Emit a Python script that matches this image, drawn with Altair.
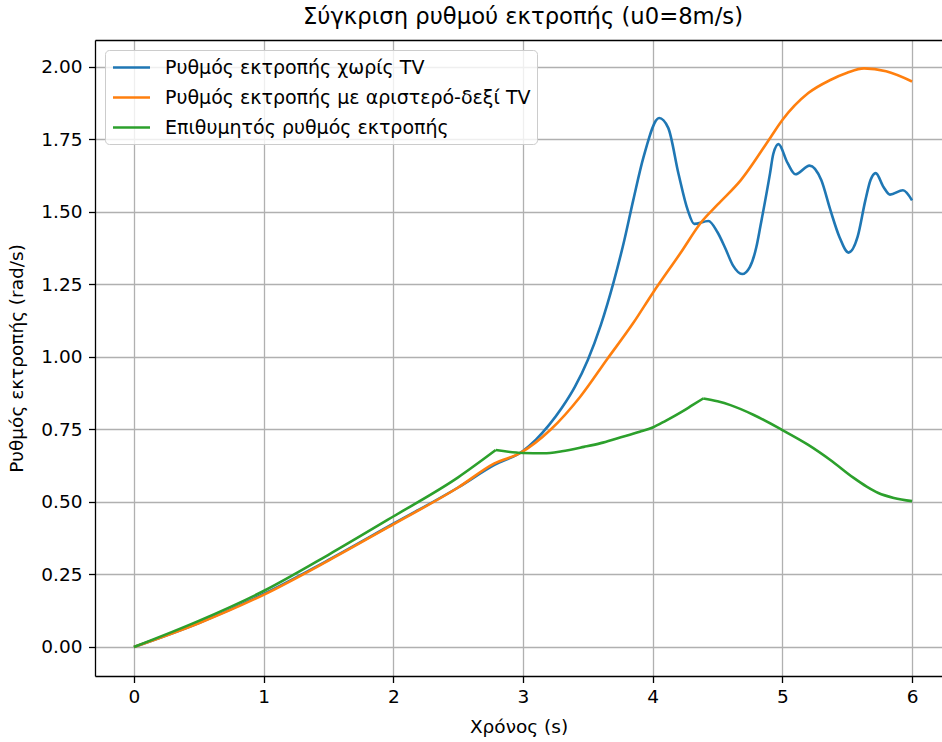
import altair as alt
import pandas as pd

# Yaw-rate comparison, initial speed u0 = 8 m/s
series_names = [
    "Ρυθμός εκτροπής χωρίς TV",
    "Ρυθμός εκτροπής με αριστερό-δεξί TV",
    "Επιθυμητός ρυθμός εκτροπής",
]
series_colors = ["#1f77b4", "#ff7f0e", "#2ca02c"]

# without torque vectoring
t_no_tv = [0.0, 0.5, 1.0, 1.5, 2.0, 2.5, 2.78, 3.0, 3.1, 3.2, 3.3, 3.4, 3.5,
           3.6, 3.7, 3.78, 3.85, 3.93, 4.05, 4.12, 4.20, 4.27, 4.32, 4.43, 4.50,
           4.56, 4.62, 4.69, 4.75, 4.80, 4.83, 4.905, 4.93, 4.97, 5.04, 5.10, 5.21,
           5.30, 5.37, 5.44, 5.51, 5.58, 5.64, 5.68, 5.72, 5.78, 5.83, 5.93, 6.0]
r_no_tv = [0.0, 0.083, 0.183, 0.300, 0.425, 0.550, 0.628, 0.676, 0.715, 0.765, 0.825,
           0.897, 0.990, 1.110, 1.260, 1.400, 1.540, 1.690, 1.824, 1.790, 1.630, 1.507,
           1.459, 1.469, 1.430, 1.375, 1.315, 1.286, 1.311, 1.380, 1.449, 1.633, 1.700,
           1.734, 1.669, 1.630, 1.660, 1.610, 1.507, 1.414, 1.360, 1.414, 1.540, 1.610,
           1.634, 1.586, 1.560, 1.575, 1.540]

# with left-right torque vectoring
t_tv = [0.0, 0.5, 1.0, 1.5, 2.0, 2.5, 2.78, 2.98, 3.21, 3.44, 3.65, 3.85, 4.0, 4.22,
        4.37, 4.5, 4.68, 4.91, 5.0, 5.2, 5.37, 5.5, 5.63, 5.8, 6.0]
r_tv = [0.0, 0.082, 0.180, 0.298, 0.423, 0.550, 0.633, 0.669, 0.748, 0.862, 0.993,
        1.117, 1.220, 1.362, 1.462, 1.525, 1.610, 1.758, 1.817, 1.910, 1.955, 1.980,
        1.995, 1.985, 1.950]

# desired yaw rate, three smooth pieces joined at corners
t_ref = [[0.0, 0.5, 1.0, 1.5, 2.0, 2.5, 2.79],
         [2.79, 3.0, 3.16, 3.3, 3.47, 3.6, 3.73, 3.9, 4.0, 4.1, 4.22, 4.3, 4.39],
         [4.39, 4.5, 4.6, 4.78, 5.0, 5.2, 5.37, 5.55, 5.65, 5.74, 5.86, 6.0]]
r_ref = [[0.0, 0.090, 0.193, 0.318, 0.450, 0.585, 0.679],
         [0.679, 0.669, 0.668, 0.675, 0.690, 0.703, 0.720, 0.742, 0.757, 0.780, 0.810,
          0.832, 0.857],
         [0.857, 0.847, 0.834, 0.800, 0.748, 0.697, 0.645, 0.583, 0.553, 0.531, 0.514,
          0.503]]

x_ticks = [0, 1, 2, 3, 4, 5, 6]
y_ticks = [0.0, 0.25, 0.5, 0.75, 1.0, 1.25, 1.5, 1.75, 2.0]

rows = []
for t, r in zip(t_no_tv, r_no_tv):
    rows.append({"t": t, "r": r, "series": series_names[0], "piece": "a0"})
for t, r in zip(t_tv, r_tv):
    rows.append({"t": t, "r": r, "series": series_names[1], "piece": "b0"})
for k, (ts, rs) in enumerate(zip(t_ref, r_ref)):
    for t, r in zip(ts, rs):
        rows.append({"t": t, "r": r, "series": series_names[2], "piece": f"c{k}"})
df = pd.DataFrame(rows)

FONT = "DejaVu Sans"
FS = 18.5
GRID = "#b0b0b0"
x_scale = alt.Scale(domain=[-0.3, 6.231], zero=False, nice=False)
y_scale = alt.Scale(domain=[-0.1, 2.093], zero=False, nice=False)
color_scale = alt.Scale(domain=series_names, range=series_colors)

x_enc = alt.X(
    "t:Q", scale=x_scale,
    axis=alt.Axis(values=x_ticks, title="Χρόνος (s)", format="d",
                  grid=True, gridColor=GRID, gridWidth=1.3,
                  domainColor="black", domainWidth=1.3,
                  tickColor="black", tickSize=6.5, tickWidth=1.3,
                  labelFontSize=FS, labelColor="black", labelPadding=5,
                  titleFontSize=FS, titleColor="black", titleFontWeight="normal",
                  titlePadding=11, labelFont=FONT, titleFont=FONT),
)
y_enc = alt.Y(
    "r:Q", scale=y_scale,
    axis=alt.Axis(values=y_ticks, title="Ρυθμός εκτροπής (rad/s)", format=".2f",
                  grid=True, gridColor=GRID, gridWidth=1.3,
                  domainColor="black", domainWidth=1.3,
                  tickColor="black", tickSize=6.5, tickWidth=1.3,
                  labelFontSize=FS, labelColor="black", labelPadding=6.5,
                  titleFontSize=FS, titleColor="black", titleFontWeight="normal",
                  titlePadding=14, labelFont=FONT, titleFont=FONT),
)

legend = alt.Legend(
    title=None, orient="none", legendX=10, legendY=10,
    symbolType="M-1.85,0H1.85", symbolSize=400, symbolStrokeWidth=2.6, symbolOffset=9,
    labelOffset=22, labelFontSize=19, labelColor="black", labelFont=FONT,
    rowPadding=8, padding=6, strokeColor="#cccccc", cornerRadius=4,
    fillColor="rgba(255,255,255,0.8)", labelLimit=800,
)

curves = alt.Chart(df).mark_line(strokeWidth=2.6, interpolate="monotone").encode(
    x=x_enc, y=y_enc,
    color=alt.Color("series:N", scale=color_scale, sort=series_names, legend=legend),
    detail="piece:N",
)

# top spine of the frame
top_spine = alt.Chart(df).mark_point(opacity=0).encode(
    x=alt.X("t:Q", scale=x_scale,
            axis=alt.Axis(orient="top", labels=False, ticks=False, grid=False,
                          title="", domainColor="black", domainWidth=1.3)),
    y=alt.Y("r:Q", scale=y_scale),
)

chart = alt.layer(curves, top_spine).resolve_axis(
    x="independent"
).properties(
    width=847, height=636,
    title=alt.TitleParams(
        "Σύγκριση ρυθμού εκτροπής (u0=8m/s)", fontSize=22.7, font=FONT,
        fontWeight="normal", color="black", anchor="middle", dx=4.5, offset=11,
    ),
    autosize=alt.AutoSizeParams(type="none"),
    padding={"left": 95, "top": 40, "right": 0, "bottom": 66},
).configure_view(stroke=None).configure(background="white")

chart.save("out.html", embed_options={"renderer": "svg", "actions": False})
